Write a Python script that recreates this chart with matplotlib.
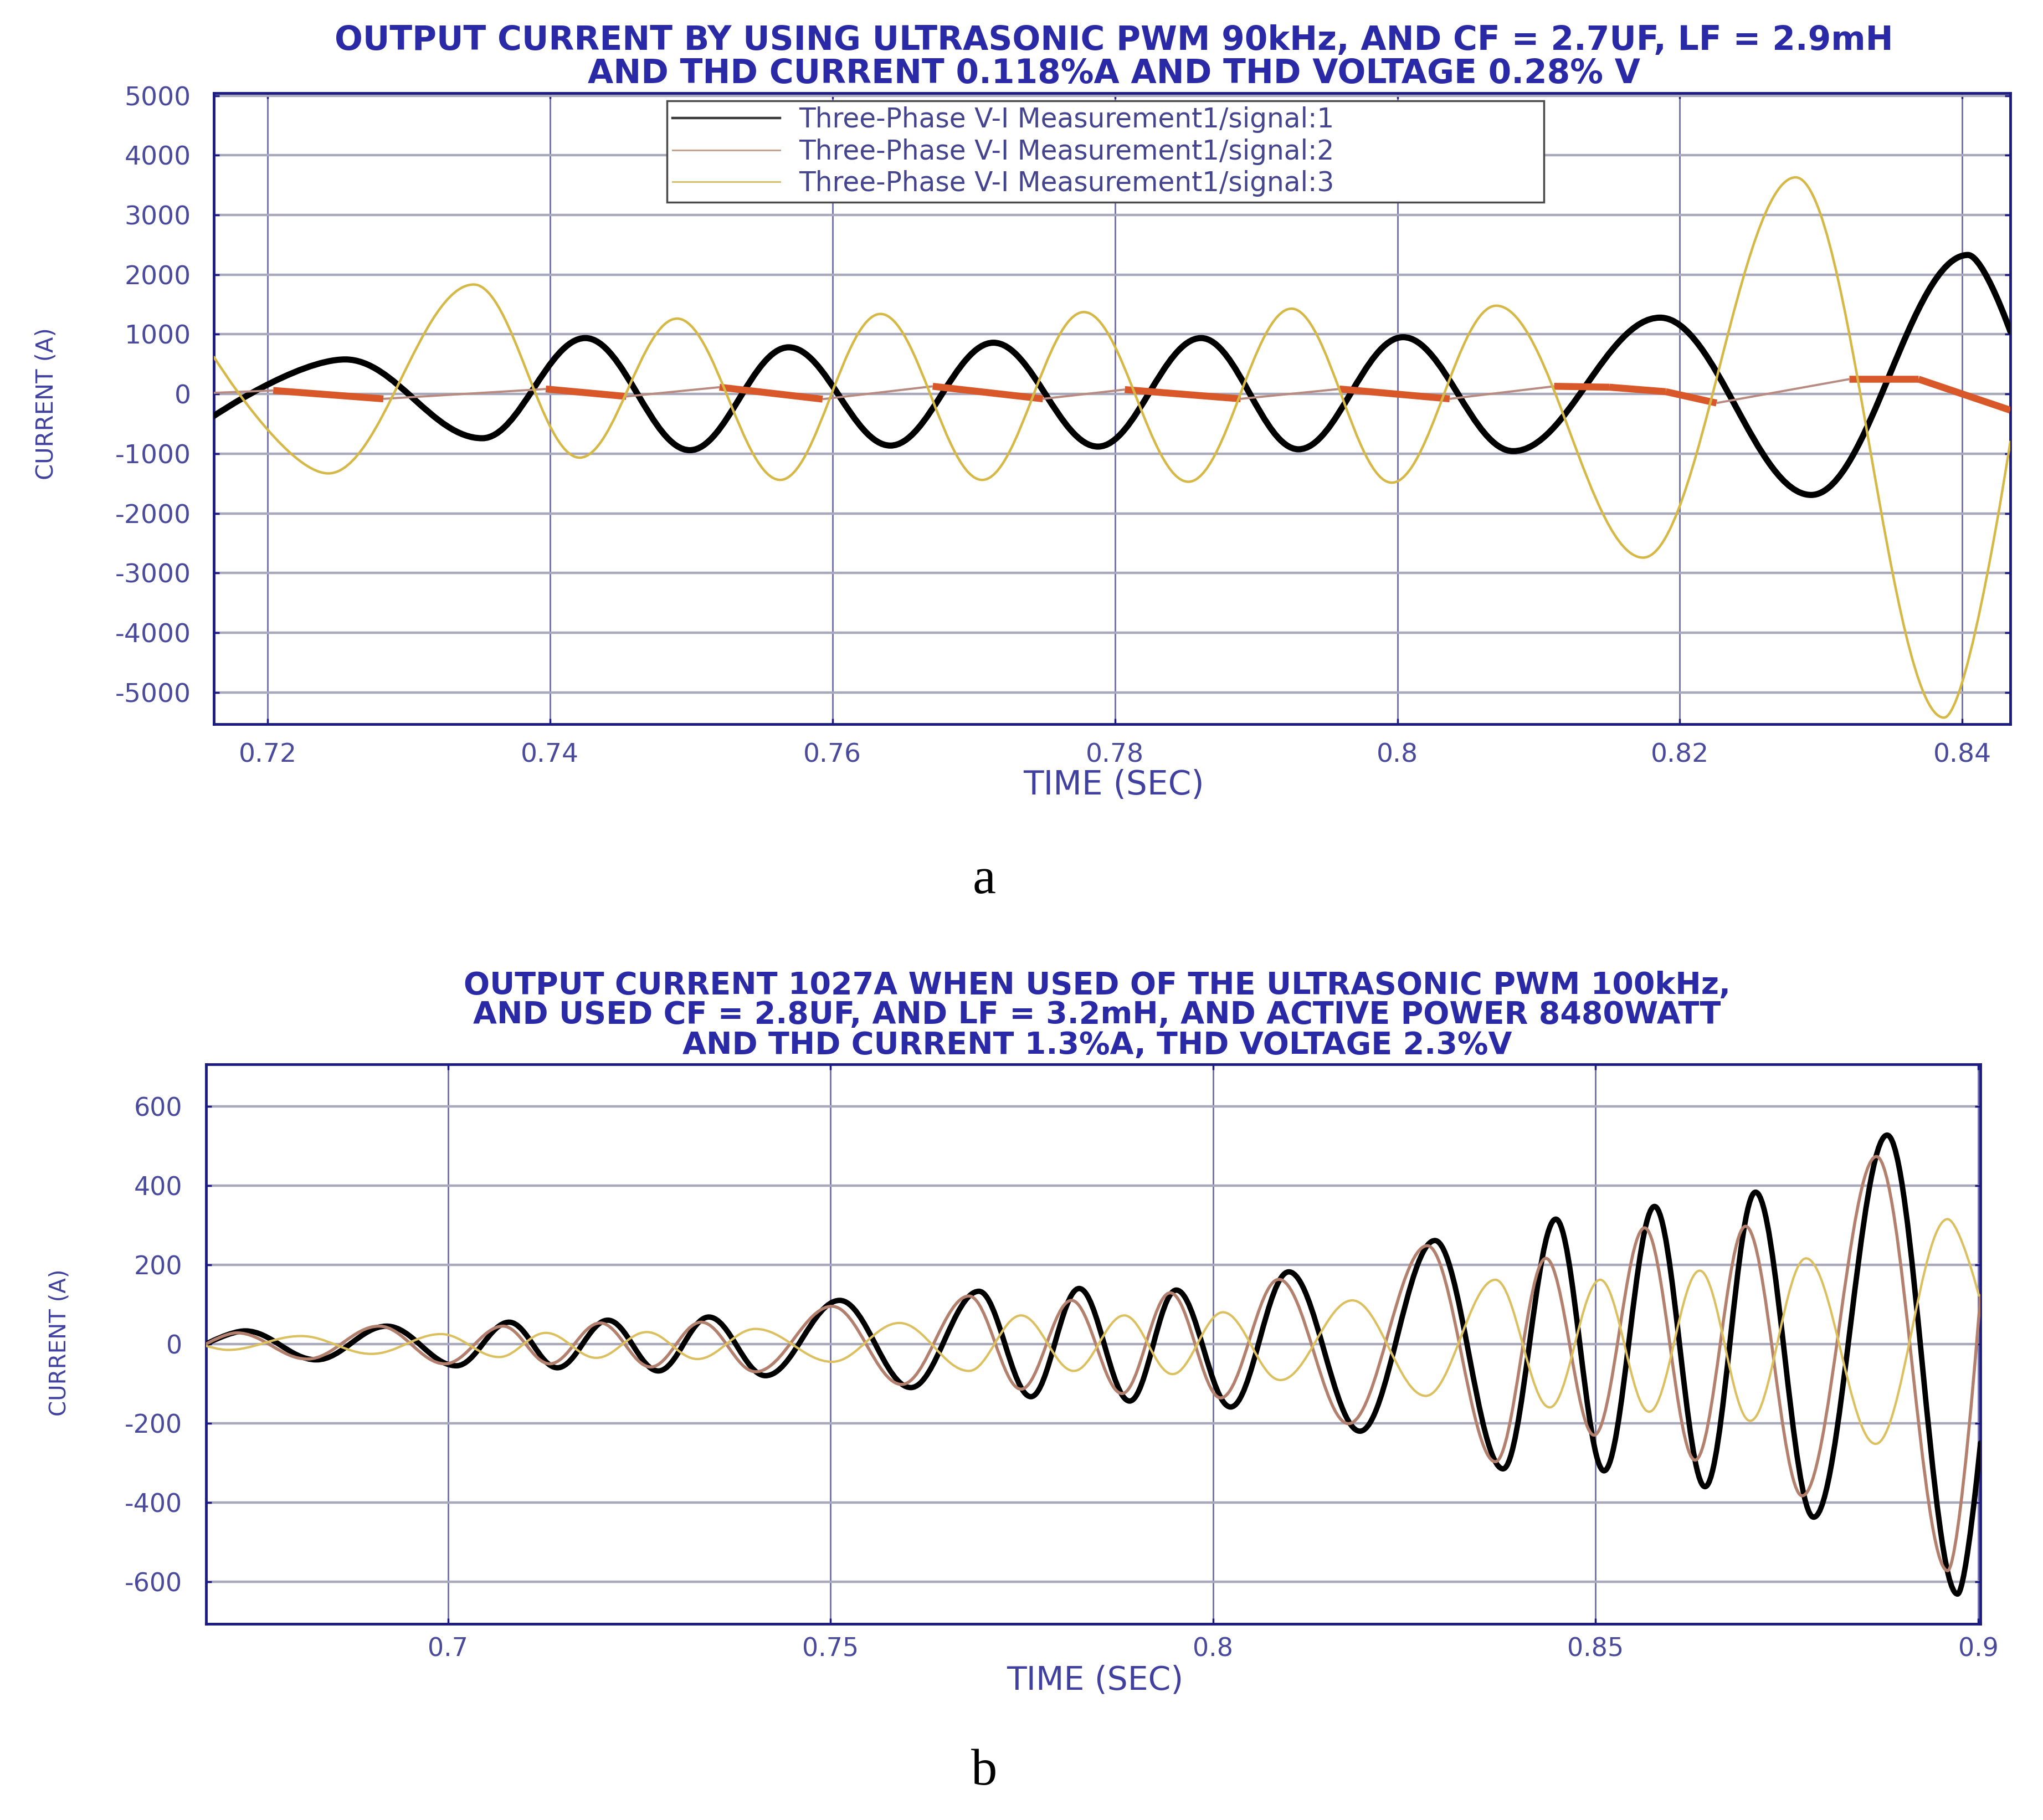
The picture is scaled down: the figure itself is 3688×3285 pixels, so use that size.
import numpy as np
import matplotlib
matplotlib.use("Agg")
import matplotlib.pyplot as plt
from matplotlib.path import Path
from matplotlib.patches import PathPatch
from matplotlib.collections import LineCollection
from matplotlib.lines import Line2D

# ---------------- data ----------------
# panel a : peaks / troughs of each phase current (time [s], current [A])
a_black_t = [0.7162, 0.7255, 0.7352, 0.7425, 0.7499, 0.7569, 0.7641, 0.7714, 0.7788,
             0.7861, 0.7930, 0.8004, 0.8082, 0.8186, 0.8293, 0.8404, 0.8434]
a_black_v = [-366, 580, -740, 938, -940, 783, -863, 860, -880,
             938, -925, 953, -956, 1280, -1690, 2330, 1050]

a_yellow_t = [0.7162, 0.7243, 0.7346, 0.7421, 0.7490, 0.7563, 0.7634, 0.7706, 0.7778,
              0.7852, 0.7925, 0.7996, 0.8070, 0.8174, 0.8282, 0.8387, 0.8434]
a_yellow_v = [620, -1329, 1835, -1065, 1264, -1438, 1342, -1438, 1373,
              -1469, 1430, -1484, 1480, -2740, 3630, -5420, -800]

# slow (almost triangular) third signal, corner points
a_red_t = [0.7162, 0.7204, 0.7282, 0.7397, 0.7454, 0.7520, 0.7593, 0.7671, 0.7749,
           0.7807, 0.7889, 0.7959, 0.8037, 0.8111, 0.8150, 0.8190, 0.8226, 0.8320,
           0.8369, 0.8434]
a_red_v = [20, 60, -80, 85, -40, 115, -85, 130, -80,
           75, -80, 85, -80, 130, 115, 40, -150, 250,
           250, -270]

# panel b
b_black_t = [0.6684, 0.6735, 0.6828, 0.6920, 0.7011, 0.7080, 0.7143, 0.7209, 0.7275,
             0.7341, 0.7415, 0.7512, 0.7605, 0.7694, 0.7762, 0.7825, 0.7891, 0.7952,
             0.8023, 0.8099, 0.8192, 0.8290, 0.8379, 0.8448, 0.8511, 0.8577, 0.8643,
             0.8709, 0.8785, 0.8881, 0.8973, 0.9003]
b_black_v = [0, 33, -40, 45, -55, 55, -60, 60, -68,
             68, -80, 110, -110, 133, -133, 140, -144, 136,
             -159, 182, -220, 261, -315, 315, -320, 347, -360,
             383, -437, 527, -631, -250]

b_brown_t = [0.6684, 0.6724, 0.6816, 0.6910, 0.6996, 0.7072, 0.7133, 0.7199, 0.7265,
             0.7331, 0.7402, 0.7502, 0.7593, 0.7681, 0.7749, 0.7815, 0.7881, 0.7944,
             0.8010, 0.8086, 0.8177, 0.8280, 0.8369, 0.8435, 0.8498, 0.8564, 0.8630,
             0.8696, 0.8770, 0.8867, 0.8960, 0.9003]
b_brown_v = [0, 28, -38, 45, -50, 45, -50, 53, -58,
             55, -70, 95, -102, 121, -114, 110, -125, 129,
             -136, 163, -201, 248, -297, 216, -230, 293, -293,
             297, -383, 473, -572, 122]

b_yellow_t = [0.6684, 0.6712, 0.6808, 0.6900, 0.6991, 0.7067, 0.7128, 0.7194, 0.7260,
              0.7326, 0.7402, 0.7502, 0.7590, 0.7681, 0.7749, 0.7818, 0.7884, 0.7947,
              0.8013, 0.8088, 0.8182, 0.8278, 0.8369, 0.8440, 0.8506, 0.8570, 0.8636,
              0.8702, 0.8775, 0.8866, 0.8960, 0.9001]
b_yellow_v = [-5, -15, 20, -25, 25, -33, 28, -35, 30,
              -38, 38, -45, 53, -68, 72, -68, 72, -76,
              80, -91, 110, -131, 162, -160, 162, -171, 185,
              -194, 216, -252, 315, 122]

# ticks
a_xticks = [0.72, 0.74, 0.76, 0.78, 0.80, 0.82, 0.84]
a_xticklabels = ["0.72", "0.74", "0.76", "0.78", "0.8", "0.82", "0.84"]
a_yticks = [5000, 4000, 3000, 2000, 1000, 0, -1000, -2000, -3000, -4000, -5000]
a_yticklabels = ["5000", "4000", "3000", "2000", "1000", "0", "-1000", "-2000", "-3000", "-4000", "-5000"]

b_xticks = [0.70, 0.75, 0.80, 0.85, 0.90]
b_xticklabels = ["0.7", "0.75", "0.8", "0.85", "0.9"]
b_yticks = [600, 400, 200, 0, -200, -400, -600]
b_yticklabels = ["600", "400", "200", "0", "-200", "-400", "-600"]

legend_labels = ["Three-Phase V-I Measurement1/signal:1",
                 "Three-Phase V-I Measurement1/signal:2",
                 "Three-Phase V-I Measurement1/signal:3"]

title_a = ["OUTPUT CURRENT BY USING ULTRASONIC PWM 90kHz, AND CF = 2.7UF, LF = 2.9mH",
           "AND THD CURRENT 0.118%A AND THD VOLTAGE 0.28% V"]
title_b = ["OUTPUT CURRENT 1027A WHEN USED OF THE ULTRASONIC PWM 100kHz,",
           "AND USED CF = 2.8UF, AND LF = 3.2mH, AND ACTIVE POWER 8480WATT",
           "AND THD CURRENT 1.3%A, THD VOLTAGE 2.3%V"]

# ---------------- styles ----------------
NAVY = "#1c1c80"
TICKC = "#4a4a9c"
TITLEC = "#2a2aa6"
LABELC = "#4040a0"
K = 0.3634  # bezier handle for a half sine between two extrema


def wave(ax, ts, vs, color, lw, z):
    # smooth half-waves between the read extrema (horizontal tangent at extrema)
    verts = [(ts[0], vs[0])]
    codes = [Path.MOVETO]
    n = len(ts)
    for i in range(n - 1):
        t0, v0, t1, v1 = ts[i], vs[i], ts[i + 1], vs[i + 1]
        dt = t1 - t0
        c1 = (t0, v0) if i == 0 else (t0 + K * dt, v0)
        c2 = (t1, v1) if i == n - 2 else (t1 - K * dt, v1)
        verts += [c1, c2, (t1, v1)]
        codes += [Path.CURVE4] * 3
    p = PathPatch(Path(verts, codes), fill=False, edgecolor=color, lw=lw,
                  joinstyle="round", capstyle="round", zorder=z)
    ax.add_patch(p)


def style_axes(ax, xlim, ylim, xt, xtl, yt, ytl, fs, xpad, ypad):
    ax.set_xlim(*xlim)
    ax.set_ylim(*ylim)
    ax.set_xticks(xt)
    ax.set_xticklabels(xtl)
    ax.set_yticks(yt)
    ax.set_yticklabels(ytl)
    ax.set_axisbelow(True)
    ax.xaxis.grid(True, color="#6e6eaa", lw=2.0)
    ax.yaxis.grid(True, color="#a9a9bc", lw=3.2)
    for s in ax.spines.values():
        s.set_color(NAVY)
        s.set_linewidth(3.5)
    ax.tick_params(axis="both", direction="in", top=True, right=True, length=7,
                   width=2.5, color=NAVY, labelcolor=TICKC, labelsize=fs)
    ax.tick_params(axis="x", pad=xpad)
    ax.tick_params(axis="y", pad=ypad)


fig = plt.figure(figsize=(36.88, 32.85), dpi=100)
fig.patch.set_facecolor("white")

# ---------------- panel a ----------------
ax1 = fig.add_axes([0.1047, 0.6021, 0.8793, 0.3467])
style_axes(ax1, (0.7162, 0.8434), (-5530, 5040), a_xticks, a_xticklabels,
           a_yticks, a_yticklabels, 34, 24, 30)

wave(ax1, a_black_t, a_black_v, "black", 8, 3)

# third signal: thick when falling, thin when rising
segs = [[(a_red_t[i], a_red_v[i]), (a_red_t[i + 1], a_red_v[i + 1])] for i in range(len(a_red_t) - 1)]
falling = [a_red_v[i + 1] <= a_red_v[i] for i in range(len(a_red_t) - 1)]
lc = LineCollection(segs, colors=["#d9582a" if f else "#b88a80" for f in falling],
                    linewidths=[9 if f else 2.8 for f in falling], capstyle="butt", zorder=4)
ax1.add_collection(lc)

wave(ax1, a_yellow_t, a_yellow_v, "#d6b846", 3.2, 5)

ax1.set_xlabel("TIME (SEC)", fontsize=43, color=LABELC)
ax1.xaxis.set_label_coords(0.501, -0.071)
ax1.set_ylabel("CURRENT (A)", fontsize=30, color=LABELC)
ax1.yaxis.set_label_coords(-0.0866, 0.5075)

handles = [Line2D([], [], color="#3a3a3a", lw=3.2),
           Line2D([], [], color="#c8a08e", lw=2.2),
           Line2D([], [], color="#d8c070", lw=2.2)]
leg = ax1.legend(handles, legend_labels, loc="upper left", mode="expand",
                 bbox_to_anchor=(0.2522, 0.834, 0.4882, 0.1537), borderaxespad=0,
                 fontsize=35, labelcolor="#45458f", handlelength=4.0, handletextpad=0.7,
                 labelspacing=0.2, borderpad=0.2, fancybox=False, framealpha=1)
leg.get_frame().set_edgecolor("#4a4a4a")
leg.get_frame().set_linewidth(2.5)
leg.set_zorder(10)

fig.text(0.5453, 0.9775, title_a[0], ha="center", va="center", fontsize=43,
         fontweight="bold", color=TITLEC)
fig.text(0.5453, 0.9595, title_a[1], ha="center", va="center", fontsize=43,
         fontweight="bold", color=TITLEC)

# ---------------- panel b ----------------
ax2 = fig.add_axes([0.1009, 0.1078, 0.8685, 0.3075])
style_axes(ax2, (0.6684, 0.9003), (-706, 706), b_xticks, b_xticklabels,
           b_yticks, b_yticklabels, 33, 17, 31)

wave(ax2, b_black_t, b_black_v, "black", 7, 3)
wave(ax2, b_brown_t, b_brown_v, "#b4806e", 4, 4)
wave(ax2, b_yellow_t, b_yellow_v, "#dcc060", 3, 5)

ax2.set_xlabel("TIME (SEC)", fontsize=42, color=LABELC)
ax2.xaxis.set_label_coords(0.5008, -0.073)
ax2.set_ylabel("CURRENT (A)", fontsize=29, color=LABELC)
ax2.yaxis.set_label_coords(-0.0765, 0.503)

for k, yy in enumerate([0.4585, 0.4423, 0.4255]):
    fig.text(0.537, yy, title_b[k], ha="center", va="center", fontsize=40,
             fontweight="bold", color=TITLEC)

# sub-figure letters
fig.text(0.4816, 0.516, "a", ha="center", va="center", fontsize=68,
         family="Liberation Serif", color="black")
fig.text(0.4816, 0.0262, "b", ha="center", va="center", fontsize=68,
         family="Liberation Serif", color="black")

fig.savefig("out.png", dpi=100, facecolor="white")
